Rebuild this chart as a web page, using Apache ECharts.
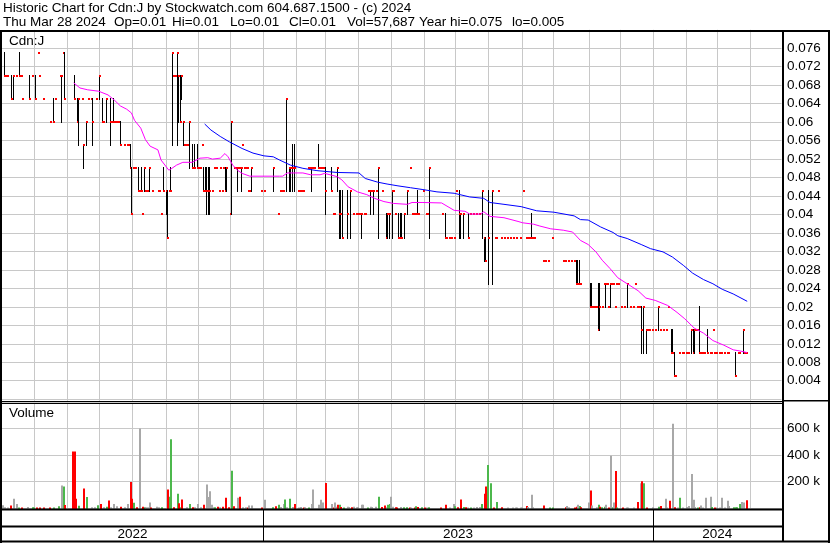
<!DOCTYPE html>
<html><head><meta charset="utf-8">
<script src="https://cdn.jsdelivr.net/npm/echarts@6/dist/echarts.min.js"></script>
<style>html,body{margin:0;padding:0;background:#fff}#c{width:830px;height:543px}</style>
</head><body><div id="c"></div>
<script>
// ---------------- DATA ----------------
const titleText = 'Historic Chart for Cdn:J by Stockwatch.com 604.687.1500 - (c) 2024';
const quoteTexts = ['Thu Mar 28 2024', 'Op=0.01', 'Hi=0.01', 'Lo=0.01', 'Cl=0.01', 'Vol=57,687', 'Year hi=0.075', 'lo=0.005'];
const symbolLabel = 'Cdn:J';
const volumeLabel = 'Volume';
const yearLabels = ['2022', '2023', '2024'];
// trading-day index where each year / month starts (x axis = trading days since start)
const yearStarts = [0, 167.5, 417.5];
const monthStarts = [20.5, 41.5, 62.5, 83.5, 105.5, 125.5, 146.5, 167.5, 188.5, 207.5, 228.5, 249.5,
  270.5, 290.5, 311.5, 333.5, 353.5, 376.5, 396.5, 417.5, 438.5, 458.5, 479.5];

// price bars: [day, low, high, close]  or [day, close] for a flat day
const priceBars = [
[1,.07,.075,.07],[2,.07],[3,.07],[6,.065,.07,.065],[7,.065,.07,.07],[9,.07],[11,.07,.075,.07],[12,.07],[13,.065],
[17,.065,.07,.065],[19,.07],[21,.065,.07,.065],[23,.075],[24,.07],[26,.065],[31,.06],[33,.06,.065,.06],[34,.065],
[37,.07],[38,.06,.07,.07],[39,.075],[40,.065,.075,.065],[46,.065,.07,.065],[48,.06,.065,.06],[49,.055,.065,.065],
[51,.065],[52,.05,.055,.055],[54,.055,.06,.06],[55,.065],[57,.065],[58,.055,.065,.06],[60,.065],[62,.065,.07,.07],
[64,.06,.065,.06],[65,.06],[67,.06,.065,.065],[69,.055,.065,.06],[70,.06],[71,.06,.065,.06],[72,.06],[73,.06],[74,.06],[75,.06],
[76,.055,.06,.055],[78,.055],[80,.055],[81,.055],[82,.05,.055,.05],[83,.04,.05,.04],[84,.05],[85,.05],
[87,.045,.05,.045],[88,.045],[89,.045,.05,.045],[90,.04],[91,.045,.05,.05],[92,.045],[93,.045],[94,.045,.05,.05],
[96,.045],[100,.045],[101,.045],[102,.04],[103,.045,.05,.045],[105,.04,.045,.045],[106,.035,.045,.035],[107,.045],
[108,.045,.05,.045],[109,.055,.075,.075],[110,.07],[111,.07],[112,.055,.075,.075],[113,.06,.07,.07],[114,.06,.07,.06],
[115,.065,.07,.07],[116,.055,.06,.06],[117,.055],[118,.055],[119,.055],[120,.05,.06,.06],[122,.05,.055,.05],
[123,.05,.055,.05],[125,.05,.055,.05],[126,.05],[127,.05],[128,.055],[129,.045,.05,.045],[130,.045,.05,.045],
[131,.04,.05,.045],[132,.04,.05,.045],[133,.04,.05,.045],[135,.045],[136,.05],[137,.05],[139,.045],[140,.05],
[141,.045],[142,.05],[143,.045,.05,.045],[144,.045,.05,.05],[146,.04],[147,.04,.06,.06],[149,.05],[150,.05],
[151,.045,.05,.05],[152,.05],[153,.045,.05,.05],[154,.055],[155,.05],[156,.05],[157,.05],[158,.045],[159,.045],
[160,.045,.05,.05],[166,.045],[168,.045],[174,.045,.05,.05],[177,.04],[178,.045],[179,.045],[180,.045],
[182,.045,.065,.065],[184,.045,.05,.05],[185,.045,.05,.05],[186,.045,.055,.05],[187,.045,.055,.05],
[190,.045],[191,.045],[192,.045],[193,.045],[196,.05],[197,.05],[198,.045,.05,.05],[199,.05],[200,.05],
[203,.05,.055,.05],[204,.05],[205,.05],[206,.05],[207,.04,.05,.045],[211,.045,.05,.045],[212,.04],[213,.04],
[215,.045,.05,.05],[216,.035,.045,.04],[217,.035,.045,.04],[218,.035,.045,.035],[221,.035,.045,.04],
[223,.035,.045,.045],[225,.04],[227,.04],[228,.04],[229,.04],[230,.035,.04,.04],[232,.04],[233,.04],[235,.045],
[236,.04,.045,.045],[237,.045],[238,.04,.045,.045],[240,.045],[241,.035,.05,.05],[244,.045],[246,.035,.04,.035],
[247,.035,.04,.04],[248,.035,.04,.04],[250,.035,.045,.045],[251,.045],[252,.04],[254,.035,.04,.035],
[255,.035,.04,.035],[256,.035,.04,.035],[258,.035,.04,.04],[260,.04,.045,.045],[262,.05],[263,.04],[264,.04],
[265,.04],[266,.04,.045,.04],[267,.04],[270,.045],[272,.04],[273,.04],[274,.035,.05,.05],[282,.04],
[284,.035,.04,.035],[285,.035],[287,.035],[288,.035],[290,.035],[291,.045],[293,.035,.045,.04],[294,.035,.04,.04],
[296,.035,.04,.04],[299,.035,.04,.035],[300,.04],[302,.04],[304,.04],[306,.04],[308,.035,.045,.045],
[309,.03,.035,.035],[310,.03,.035,.03],[312,.025,.045,.035],[314,.025,.045,.045],[316,.035],[317,.035],[318,.045],
[320,.035],[322,.035],[324,.035],[326,.035],[328,.035],[330,.035],[332,.035],[334,.045],[336,.035],[337,.035],
[338,.035],[339,.035,.04,.035],[340,.035],[341,.035],[347,.03],[348,.03],[350,.03],[353,.035],[360,.03],[361,.03],
[363,.03],[365,.03],[367,.03],[368,.025,.03,.025],[369,.025,.03,.025],[370,.025,.03,.025],[371,.025],
[377,.02,.025,.02],[378,.02,.025,.02],[379,.02],[380,.02],[381,.02],[382,.015,.025,.015],[383,.015,.025,.02],
[385,.02],[386,.025],[387,.02,.025,.025],[388,.025],[389,.02],[390,.02,.025,.025],[391,.025],[392,.025],[393,.02],
[394,.025],[395,.025],[397,.02],[399,.02],[401,.02,.025,.025],[403,.02],[405,.02],[406,.025],[407,.02],[408,.02],
[409,.02],[410,.01,.02,.015],[411,.01,.02,.02],[413,.01,.015,.015],[414,.015],[415,.015],[417,.015],[419,.015],
[421,.015,.02,.02],[422,.015],[424,.015],[426,.015],[427,.02],[429,.01,.015,.01],[430,.01,.015,.01],
[431,.005,.01,.005],[432,.005],[434,.01],[436,.01],[437,.01],[439,.01],[440,.01],[442,.01,.015,.015],
[443,.01,.015,.01],[444,.01,.015,.015],[445,.015],[446,.015],[447,.01,.02,.01],[448,.01],[449,.01],[450,.01],
[452,.01,.015,.01],[454,.01],[455,.01],[456,.015],[457,.01],[458,.01],[460,.01],[461,.01],[463,.01],[465,.01],
[466,.01],[470,.005,.01,.005],[472,.01],[473,.01],[475,.01,.015,.015],[476,.01],[477,.01]
];

// short moving average (magenta) and long moving average (blue): [day, value]
const maShort = [
[46,.0685],[50,.0674],[55,.067],[62,.0667],[68,.0659],[72,.0648],[76,.0635],[80,.0628],[83,.062],[85,.0604],
[89,.0587],[92,.0562],[95,.0548],[100,.054],[102,.0518],[107,.0496],[109,.05],[112,.0507],[116,.0513],[122,.0513],
[127,.0522],[132,.0523],[135,.052],[140,.0522],[143,.0532],[145,.0525],[148,.0507],[151,.0496],[154,.0489],
[159,.0483],[178,.0483],[180,.0483],[183,.049],[193,.049],[198,.0486],[204,.0486],[207,.0489],[215,.0482],
[218,.0475],[222,.046],[228,.0449],[234,.0443],[239,.0435],[245,.0428],[251,.0424],[260,.0422],[263,.0426],
[270,.0426],[282,.0425],[290,.0409],[297,.0407],[300,.0401],[307,.0401],[309,.0406],[313,.0396],[322,.0393],
[331,.0385],[334,.0382],[341,.0379],[345,.0375],[352,.0369],[360,.0366],[366,.0362],[371,.0344],[376,.0335],
[381,.0319],[385,.0301],[390,.0283],[395,.0263],[401,.025],[408,.0235],[413,.0219],[419,.0214],[427,.0203],
[433,.0188],[438,.0174],[444,.0154],[450,.0143],[456,.0127],[463,.0117],[469,.0107],[474,.0104],[478,.0101]
];
const maLong = [
[130,.0596],[134,.0583],[140,.0569],[146,.0557],[154,.0543],[161,.0533],[168,.0527],[174,.0525],[178,.0518],
[185,.0507],[193,.05],[202,.0495],[215,.0491],[229,.049],[233,.0478],[241,.047],[247,.0466],[254,.0462],
[262,.0458],[270,.0454],[279,.0449],[290,.0446],[300,.0438],[309,.0435],[313,.0426],[322,.0422],[333,.0417],
[343,.0408],[354,.0405],[367,.0397],[371,.0389],[376,.0388],[384,.0373],[392,.0361],[395,.0354],[401,.0348],
[410,.0335],[416,.0326],[424,.0319],[430,.0308],[437,.029],[443,.0273],[450,.0259],[456,.025],[462,.0238],
[469,.0228],[478,.0212]
];

// volume: [day, shares, direction]  g = up, r = down, n = unchanged
const volumeBars = [
[0,21000,'n'],[1,5000,'n'],[3,4000,'n'],[5,18000,'r'],[7,70000,'n'],[9,31000,'n'],[10,4000,'g'],[12,3000,'r'],
[16,8000,'n'],[19,5000,'g'],[20,4000,'g'],[22,3000,'r'],[24,3000,'r'],[26,3000,'r'],[30,3000,'r'],[33,4000,'g'],
[36,13000,'g'],[38,170000,'n'],[39,163000,'g'],[40,23000,'r'],[45,426000,'r'],[46,426000,'r'],[47,70000,'r'],
[49,17000,'g'],[52,147000,'r'],[54,83000,'g'],[57,6000,'n'],[59,5000,'n'],[61,20000,'g'],[63,31000,'r'],
[65,5000,'n'],[67,10000,'g'],[68,57000,'r'],[69,6000,'n'],[71,31000,'n'],[73,14000,'n'],[76,10000,'r'],
[78,6000,'n'],[80,31000,'n'],[82,196000,'r'],[83,70000,'r'],[84,40000,'g'],[86,5000,'r'],[88,600000,'n'],
[90,10000,'r'],[91,5000,'g'],[92,5000,'n'],[93,5000,'n'],[94,41000,'n'],[95,3000,'r'],[99,10000,'n'],
[100,5000,'n'],[102,5000,'g'],[106,139000,'r'],[107,85000,'g'],[108,518000,'g'],[110,6000,'r'],[112,108000,'g'],
[113,35000,'r'],[114,5000,'g'],[115,64000,'r'],[118,6000,'n'],[120,31000,'g'],[122,6000,'r'],[123,5000,'n'],
[125,31000,'n'],[127,6000,'n'],[129,24000,'r'],[131,178000,'n'],[132,83000,'n'],[133,126000,'n'],[134,25000,'n'],
[135,6000,'n'],[136,5000,'g'],[138,10000,'r'],[139,6000,'n'],[141,10000,'r'],[143,77000,'r'],[145,6000,'r'],
[147,281000,'g'],[148,14000,'r'],[151,77000,'n'],[152,85000,'r'],[154,6000,'n'],[156,5000,'n'],[157,3000,'r'],
[158,19000,'n'],[160,19000,'n'],[166,3000,'r'],[168,62000,'n'],[173,5000,'g'],[175,14000,'r'],[177,25000,'g'],
[178,8000,'n'],[180,31000,'n'],[181,64000,'g'],[182,6000,'n'],[184,70000,'g'],[186,8000,'n'],[187,31000,'r'],
[190,3000,'n'],[191,8000,'n'],[193,3000,'r'],[194,5000,'n'],[196,3000,'g'],[198,31000,'n'],[199,139000,'n'],
[203,25000,'n'],[204,62000,'n'],[205,41000,'n'],[207,188000,'r'],[211,31000,'n'],[212,3000,'r'],[213,41000,'n'],
[214,10000,'n'],[215,25000,'r'],[216,25000,'g'],[217,8000,'r'],[219,3000,'g'],[221,10000,'n'],[222,8000,'n'],
[224,6000,'r'],[225,10000,'n'],[227,6000,'n'],[228,8000,'n'],[230,25000,'n'],[231,25000,'n'],[234,3000,'g'],
[236,10000,'n'],[237,8000,'n'],[239,10000,'n'],[241,85000,'g'],[243,8000,'r'],[245,18000,'r'],[246,6000,'n'],
[247,25000,'g'],[248,31000,'g'],[249,85000,'n'],[250,10000,'n'],[252,5000,'r'],[253,3000,'r'],[255,8000,'n'],
[257,6000,'g'],[259,6000,'g'],[261,3000,'r'],[262,3000,'n'],[264,3000,'r'],[265,14000,'g'],[266,8000,'r'],
[269,6000,'g'],[271,4000,'r'],[272,4000,'n'],[273,6000,'g'],[281,3000,'r'],[284,25000,'r'],[287,3000,'n'],
[289,31000,'n'],[290,14000,'g'],[292,6000,'r'],[294,64000,'r'],[296,8000,'g'],[297,6000,'r'],[298,3000,'n'],
[300,3000,'g'],[302,3000,'n'],[304,8000,'n'],[306,8000,'n'],[307,31000,'g'],[309,108000,'r'],[310,163000,'r'],
[311,325000,'g'],[313,186000,'g'],[315,3000,'r'],[317,46000,'g'],[320,6000,'r'],[324,3000,'n'],[327,3000,'n'],
[329,3000,'n'],[330,3000,'n'],[332,3000,'n'],[333,3000,'n'],[336,15000,'r'],[337,8000,'n'],[339,100000,'n'],
[340,6000,'n'],[347,18000,'r'],[351,4000,'g'],[353,4000,'g'],[361,6000,'r'],[362,15000,'n'],[363,6000,'n'],
[367,3000,'r'],[368,10000,'r'],[369,25000,'n'],[370,15000,'g'],[371,6000,'r'],[376,41000,'n'],[377,132000,'r'],
[378,18000,'n'],[381,5000,'n'],[382,25000,'g'],[383,10000,'r'],[384,6000,'g'],[386,10000,'g'],[387,25000,'n'],
[389,3000,'r'],[390,395000,'n'],[391,5000,'g'],[392,41000,'n'],[393,279000,'r'],[394,3000,'g'],[398,3000,'r'],
[400,3000,'n'],[401,3000,'n'],[405,3000,'n'],[407,46000,'r'],[409,186000,'n'],[410,201000,'r'],[411,186000,'g'],
[413,4000,'r'],[417,5000,'n'],[421,10000,'g'],[422,15000,'r'],[425,70000,'n'],[426,3000,'n'],[428,54000,'r'],
[430,635000,'n'],[431,6000,'r'],[433,3000,'n'],[434,77000,'g'],[436,3000,'n'],[439,8000,'n'],[440,15000,'n'],
[442,256000,'n'],[443,62000,'n'],[444,8000,'n'],[446,3000,'g'],[447,6000,'r'],[448,19000,'n'],[449,3000,'n'],
[451,77000,'n'],[454,85000,'n'],[455,8000,'g'],[457,3000,'r'],[458,3000,'n'],[460,3000,'n'],[461,77000,'n'],
[463,3000,'n'],[465,54000,'n'],[466,15000,'n'],[469,5000,'g'],[470,5000,'g'],[471,5000,'g'],[473,31000,'g'],
[474,46000,'n'],[475,41000,'n'],[477,57687,'r']
];

// axis ranges (tick labels derive from these)
const priceMin = 0, priceMax = 0.08, priceStep = 0.004;
const volMin = 0, volMax = 800000, volStep = 200000;
const dayMax = 500;

// ---------------- CHART ----------------
const FONT_FAMILY = 'Arial, "Liberation Sans", sans-serif';
const FONT = '13.5px ' + FONT_FAMILY;
const volColors = { g: '#4cb84c', r: '#ff0000', n: '#a8a8a8' };
const GRID_L = 2, GRID_W = 779.5;

const chart = echarts.init(document.getElementById('c'), null, { renderer: 'canvas' });

function vGridLines(extraBottom) {
  return function (params, api) {
    const x = Math.round(api.coord([api.value(0), 0])[0]) + 0.5;
    const cs = params.coordSys;
    return { type: 'line', silent: true,
      shape: { x1: x, y1: cs.y, x2: x, y2: cs.y + cs.height + extraBottom },
      style: { stroke: '#c8c8c8', lineWidth: 1 } };
  };
}

function renderPriceBar(params, api) {
  const d = api.value(0), lo = api.value(1), hi = api.value(2), cl = api.value(3);
  const pc = api.coord([d, cl]);
  const x = Math.round(pc[0]);
  const yH = Math.round(api.coord([d, hi])[1]);
  const yL = Math.round(api.coord([d, lo])[1]);
  const yC = Math.round(pc[1]);
  const children = [];
  if (yL > yH) children.push({ type: 'rect', shape: { x: x, y: yH - 1, width: 1, height: yL - yH + 2 }, style: { fill: '#000' } });
  children.push({ type: 'rect', shape: { x: x, y: yC - 1, width: 2, height: 2 }, style: { fill: '#ff0000' } });
  return { type: 'group', children: children };
}

function renderVolume(params, api) {
  const d = api.value(0), v = api.value(1);
  const p = api.coord([d, v]);
  const base = api.coord([d, 0])[1] + 1;
  const x = Math.round(p[0]);
  const top = Math.min(p[1], base - 1);
  const code = volumeBars[params.dataIndex][2];
  return { type: 'rect', shape: { x: x, y: top, width: 2, height: base - top }, style: { fill: volColors[code] } };
}

function renderYearBand(params, api) {
  const i = params.dataIndex;
  const cs = params.coordSys;
  const start = yearStarts[i];
  const end = i + 1 < yearStarts.length ? yearStarts[i + 1] : dayMax;
  const xs = api.coord([start, 0])[0];
  const xe = api.coord([end, 0])[0];
  const children = [];
  if (i > 0) {
    const x = Math.round(xs) + 0.5;
    children.push({ type: 'line', shape: { x1: x, y1: cs.y, x2: x, y2: cs.y + cs.height }, style: { stroke: '#000', lineWidth: 1 } });
  }
  children.push({ type: 'text', style: { text: yearLabels[i], x: (xs + xe) / 2, y: cs.y + 24, align: 'center', verticalAlign: 'middle', font: FONT, fill: '#000' } });
  return { type: 'group', children: children };
}

const normBars = priceBars.map(r => r.length === 2 ? [r[0], r[1], r[1], r[1]] : r);

function fmtPrice(v) {
  if (v <= priceMin + 1e-9 || v >= priceMax - 1e-9) return '';
  return String(+v.toFixed(3));
}
function fmtVol(v) {
  if (v <= volMin || v >= volMax) return '';
  return (v / 1000) + ' k';
}

function rect(x, y, w, h) {
  return { type: 'rect', z: 100, silent: true, shape: { x: x, y: y, width: w, height: h }, style: { fill: '#000' } };
}
function label(text, x, y) {
  return { type: 'text', z: 100, silent: true, x: x, y: y,
    style: { text: text, font: FONT, fill: '#000', textVerticalAlign: 'middle', verticalAlign: 'middle' } };
}
const quoteX = [3, 114, 172, 230, 289, 347, 419, 512];

const option = {
  animation: false,
  backgroundColor: '#fff',
  grid: [
    { left: GRID_L, top: 29.8, width: GRID_W, height: 369.4 },
    { left: GRID_L, top: 402, width: GRID_W, height: 106 },
    { left: GRID_L, top: 510, width: GRID_W, height: 31 }
  ],
  xAxis: [0, 1, 2].map(i => ({ type: 'value', gridIndex: i, min: 0, max: dayMax, show: false })),
  yAxis: [
    { type: 'value', gridIndex: 0, position: 'right', min: priceMin, max: priceMax, interval: priceStep,
      axisLine: { show: false }, axisTick: { show: false },
      splitLine: { show: true, lineStyle: { color: '#c8c8c8', width: 1 } },
      axisLabel: { margin: 5.5, color: '#000', fontSize: 13.5, fontFamily: FONT_FAMILY, formatter: fmtPrice } },
    { type: 'value', gridIndex: 1, position: 'right', min: volMin, max: volMax, interval: volStep,
      axisLine: { show: false }, axisTick: { show: false },
      splitLine: { show: true, lineStyle: { color: '#c8c8c8', width: 1 } },
      axisLabel: { margin: 5.5, color: '#000', fontSize: 13.5, fontFamily: FONT_FAMILY, formatter: fmtVol } },
    { type: 'value', gridIndex: 2, min: 0, max: 1, show: false }
  ],
  series: [
    { type: 'custom', name: 'monthGridPrice', xAxisIndex: 0, yAxisIndex: 0, z: 1, silent: true,
      data: monthStarts.map(m => [m, 0]), encode: { x: 0, y: 1 }, renderItem: vGridLines(1.5) },
    { type: 'custom', name: 'monthGridVol', xAxisIndex: 1, yAxisIndex: 1, z: 1, silent: true,
      data: monthStarts.map(m => [m, 0]), encode: { x: 0, y: 1 }, renderItem: vGridLines(1) },
    { type: 'custom', name: 'price', xAxisIndex: 0, yAxisIndex: 0, z: 3, silent: true,
      data: normBars, encode: { x: 0, y: [1, 2, 3] }, renderItem: renderPriceBar },
    { type: 'line', name: 'MA short', xAxisIndex: 0, yAxisIndex: 0, z: 4, silent: true,
      data: maShort, symbol: 'none', showSymbol: false, lineStyle: { color: '#ff00ff', width: 1 } },
    { type: 'line', name: 'MA long', xAxisIndex: 0, yAxisIndex: 0, z: 4, silent: true,
      data: maLong, symbol: 'none', showSymbol: false, lineStyle: { color: '#0000ff', width: 1 } },
    { type: 'custom', name: 'volume', xAxisIndex: 1, yAxisIndex: 1, z: 3, silent: true,
      data: volumeBars.map(r => [r[0], r[1]]), encode: { x: 0, y: 1 }, renderItem: renderVolume },
    { type: 'custom', name: 'years', xAxisIndex: 2, yAxisIndex: 2, z: 5, silent: true,
      data: yearStarts.map(s => [s, 0.5]), encode: { x: 0, y: 1 }, renderItem: renderYearBand }
  ],
  graphic: [
    label(titleText, 3, 8.5),
    ...quoteTexts.map((t, i) => label(t, quoteX[i], 22.5)),
    label(symbolLabel, 9, 41.5),
    label(volumeLabel, 9, 413),
    rect(0, 30, 830, 2),
    rect(0, 30, 2, 513),
    rect(828, 30, 2, 513),
    rect(782, 30, 2, 512),
    rect(0, 401, 782, 1),
    rect(0, 403, 782, 1),
    rect(782, 400, 48, 1.5),
    rect(0, 508.5, 782, 2),
    rect(0, 525.5, 782, 2),
    rect(0, 540.5, 830, 2)
  ]
};
chart.setOption(option);
</script>
</body></html>
